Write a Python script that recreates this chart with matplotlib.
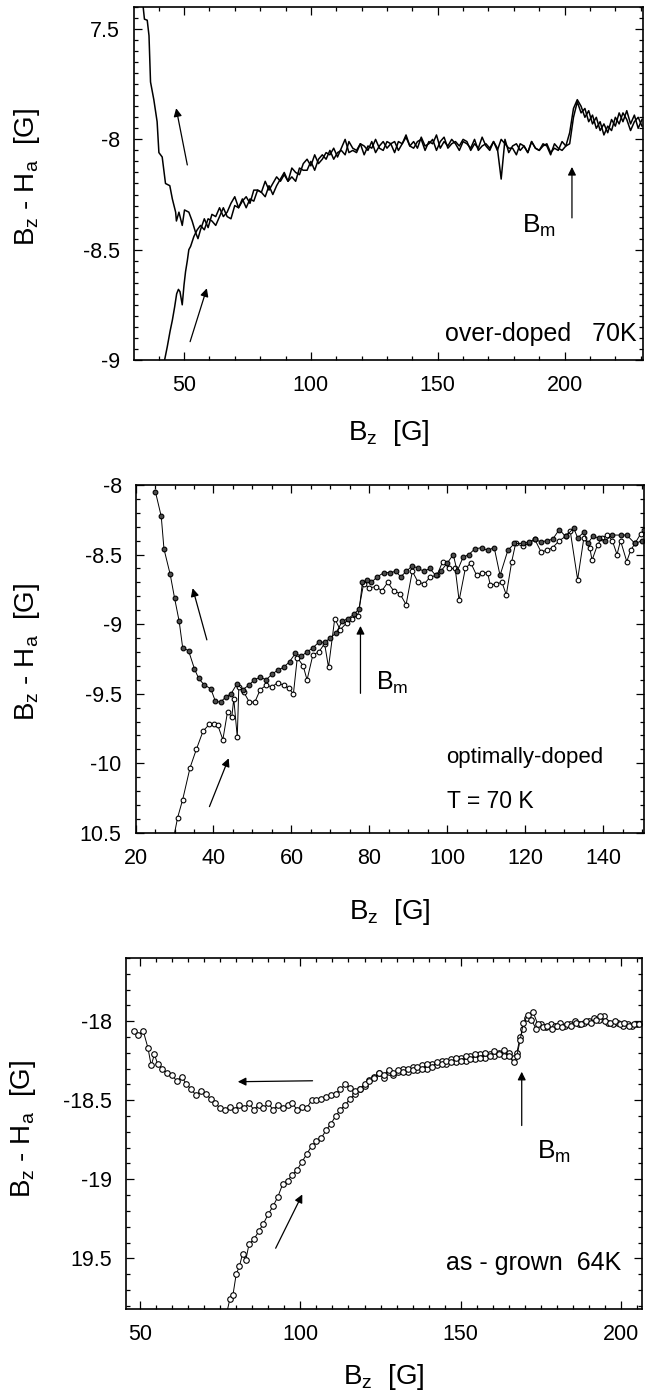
import matplotlib
matplotlib.use('Agg')
import matplotlib.pyplot as plt
from matplotlib.ticker import MultipleLocator

plt.rcParams['font.family'] = ['Liberation Sans', 'DejaVu Sans']
plt.rcParams['mathtext.fontset'] = 'custom'
plt.rcParams['mathtext.rm'] = 'Liberation Sans'
plt.rcParams['mathtext.it'] = 'Liberation Sans:italic'
plt.rcParams['mathtext.default'] = 'regular'

# ---- panel 1: over-doped 70K (field increasing / decreasing) ----
p1_up_x = [42.0, 43.4, 44.5, 45.4, 46.3, 47.1, 47.8, 48.4, 49.3, 50.0, 50.6, 51.3, 51.9, 52.6, 53.9, 55.2,
           56.5, 58.0, 59.5, 61.0, 62.5, 64.0, 65.5, 67.0, 68.5, 70.0,
           71.5, 73.0, 74.5, 76.0, 77.5, 79.0, 80.5, 82.0, 83.5, 85.0,
           86.5, 88.0, 89.5, 91.0, 92.5, 94.0, 95.5, 97.0, 98.5, 100.0,
           101.5, 103.0, 104.5, 106.0, 107.5, 109.0, 110.5, 112.0, 113.5, 115.0,
           116.5, 118.0, 119.5, 121.0, 122.5, 124.0, 125.5, 127.0, 128.5, 130.0,
           131.5, 133.0, 134.5, 136.0, 137.5, 139.0, 140.5, 142.0, 143.5, 145.0,
           146.5, 148.0, 149.5, 151.0, 152.5, 154.0, 155.5, 157.0, 158.5, 160.0,
           161.5, 163.0, 164.5, 166.0, 167.5, 169.0, 170.5, 172.0, 173.5, 175.0,
           176.5, 178.0, 179.5, 181.0, 182.5, 184.0, 185.5, 187.0, 188.5, 190.0,
           191.5, 193.0, 194.5, 196.0, 197.5, 199.0, 200.5, 202.0, 203.5, 205.0,
           206.5, 208.0, 209.5, 211.0, 212.5, 214.0, 215.5, 217.0, 218.5, 220.0,
           221.5, 223.0, 224.5, 226.0, 227.5, 229.0, 230.5]
p1_up_y = [-9.02, -8.94, -8.87, -8.82, -8.76, -8.70, -8.68, -8.69, -8.75, -8.66, -8.60, -8.55, -8.50, -8.485, -8.44, -8.41,
           -8.39, -8.41, -8.36, -8.37, -8.39, -8.35, -8.31, -8.35, -8.36, -8.30,
           -8.31, -8.27, -8.31, -8.27, -8.28, -8.23, -8.24, -8.26, -8.21, -8.25,
           -8.21, -8.18, -8.15, -8.19, -8.17, -8.19, -8.13, -8.14, -8.14, -8.10,
           -8.14, -8.09, -8.07, -8.09, -8.05, -8.09, -8.06, -8.05, -8.07, -8.01,
           -8.04, -8.05, -8.02, -8.07, -8.03, -8.04, -8.00, -8.04, -8.05, -8.01,
           -8.02, -8.06, -8.01, -8.02, -7.98, -8.03, -8.01, -8.04, -7.99, -8.03,
           -8.02, -8.00, -8.05, -8.01, -7.99, -8.04, -8.02, -8.01, -8.03, -8.00,
           -8.01, -8.05, -8.02, -8.04, -7.99, -8.03, -8.05, -8.01, -8.04, -8.18,
           -8.00, -8.06, -8.03, -8.02, -8.05, -8.03, -8.06, -8.01, -8.04, -8.05,
           -8.02, -8.03, -8.07, -8.02, -8.04, -8.05, -8.03, -7.97, -7.86, -7.82,
           -7.85, -7.90, -7.87, -7.93, -7.90, -7.96, -7.93, -7.97, -7.91, -7.94,
           -7.88, -7.92, -7.87, -7.93, -7.89, -7.95, -7.91]
p1_dn_x = [33.6, 33.9, 34.4, 35.5, 36.2, 36.8, 38.1, 39.4, 40.1, 41.4, 42.7, 44.4, 45.4, 46.7, 47.0, 48.0,
           49.3, 50.2, 51.9, 53.2, 54.5, 55.5,
           56.5, 58.0, 59.5, 61.0, 62.5, 64.0, 65.5, 67.0, 68.5, 70.0,
           71.5, 73.0, 74.5, 76.0, 77.5, 79.0, 80.5, 82.0, 83.5, 85.0,
           86.5, 88.0, 89.5, 91.0, 92.5, 94.0, 95.5, 97.0, 98.5, 100.0,
           101.5, 103.0, 104.5, 106.0, 107.5, 109.0, 110.5, 112.0, 113.5, 115.0,
           116.5, 118.0, 119.5, 121.0, 122.5, 124.0, 125.5, 127.0, 128.5, 130.0,
           131.5, 133.0, 134.5, 136.0, 137.5, 139.0, 140.5, 142.0, 143.5, 145.0,
           146.5, 148.0, 149.5, 151.0, 152.5, 154.0, 155.5, 157.0, 158.5, 160.0,
           161.5, 163.0, 164.5, 166.0, 167.5, 169.0, 170.5, 172.0, 173.5, 175.0,
           176.5, 178.0, 179.5, 181.0, 182.5, 184.0, 185.5, 187.0, 188.5, 190.0,
           191.5, 193.0, 194.5, 196.0, 197.5, 199.0, 200.5, 202.0, 203.5, 205.0,
           206.5, 208.0, 209.5, 211.0, 212.5, 214.0, 215.5, 217.0, 218.5, 220.0,
           221.5, 223.0, 224.5, 226.0, 227.5, 229.0, 230.5]
p1_dn_y = [-7.30, -7.40, -7.455, -7.46, -7.53, -7.74, -7.82, -7.92, -8.06, -8.08, -8.20, -8.21, -8.27, -8.33, -8.37, -8.33,
           -8.39, -8.32, -8.33, -8.37, -8.42, -8.45,
           -8.41, -8.36, -8.40, -8.34, -8.35, -8.31, -8.35, -8.33, -8.29, -8.26,
           -8.31, -8.28, -8.26, -8.29, -8.23, -8.23, -8.24, -8.19, -8.23, -8.20,
           -8.17, -8.19, -8.16, -8.19, -8.13, -8.15, -8.16, -8.11, -8.09, -8.12,
           -8.07, -8.11, -8.09, -8.06, -8.07, -8.04, -8.08, -8.04, -8.00, -8.06,
           -8.05, -8.06, -8.02, -8.03, -8.05, -8.01, -8.06, -8.03, -8.01, -8.04,
           -8.02, -8.01, -8.05, -8.02, -7.99, -8.03, -8.04, -8.01, -8.00, -8.05,
           -8.01, -8.02, -7.98, -8.04, -8.01, -8.03, -8.00, -8.02, -8.05, -8.01,
           -8.02, -8.04, -8.00, -8.05, -8.03, -8.02, -8.04, -8.01, -8.05, -8.00,
           -8.02, -8.04, -8.04, -8.07, -8.02, -8.03, -8.06, -8.01, -8.04, -8.05,
           -8.03, -8.02, -8.06, -8.04, -8.05, -8.01, -8.03, -8.02, -7.90, -7.83,
           -7.88, -7.86, -7.92, -7.89, -7.95, -7.92, -7.98, -7.94, -7.96, -7.90,
           -7.93, -7.88, -7.91, -7.96, -7.92, -7.90, -7.94]

# ---- panel 2: optimally-doped, T = 70 K ----
p2_up_x = [29.6, 30.8, 32.1, 34.0, 35.6, 37.3, 38.9, 40.2, 41.1, 42.4,
           43.6, 44.7, 45.2, 46.1, 46.5, 47.8, 49.2, 50.6, 52, 53.5,
           55, 56.5, 58, 59.3, 60.5, 61.5, 63, 64, 65.5, 67,
           68.5, 69.5, 71.1, 72.5, 74.2, 75.5, 77, 78.5, 80, 81.6,
           83.2, 84.7, 86.2, 87.8, 89.4, 91, 92.5, 94.1, 95.6, 97.3,
           98.8, 100.5, 102, 103, 104.6, 106, 107.5, 109, 110.3, 111,
           112.5, 114, 115.1, 116.5, 117.5, 119.3, 121, 122.4, 124, 125.5,
           127, 128.7, 130.3, 131.5, 133.4, 135, 136.5, 137.1, 138.5, 139.7,
           141, 142.3, 143.5, 144.4, 146, 147, 148.1, 149.6, 150.5]
p2_up_y = [-10.56, -10.39, -10.26, -10.03, -9.90, -9.77, -9.72, -9.72, -9.726, -9.83,
           -9.63, -9.667, -9.536, -9.81, -9.45, -9.49, -9.56, -9.56, -9.47, -9.44,
           -9.45, -9.42, -9.44, -9.46, -9.50, -9.24, -9.30, -9.40, -9.22, -9.20,
           -9.14, -9.31, -8.96, -9.04, -8.99, -8.96, -8.94, -8.71, -8.74, -8.73,
           -8.76, -8.70, -8.76, -8.78, -8.86, -8.62, -8.70, -8.71, -8.66, -8.65,
           -8.55, -8.60, -8.60, -8.83, -8.60, -8.56, -8.65, -8.63, -8.63, -8.72,
           -8.71, -8.70, -8.79, -8.55, -8.42, -8.44, -8.42, -8.39, -8.48, -8.47,
           -8.45, -8.40, -8.37, -8.33, -8.68, -8.38, -8.45, -8.54, -8.43, -8.38,
           -8.36, -8.40, -8.50, -8.40, -8.55, -8.47, -8.42, -8.35, -8.32]
p2_dn_x = [150, 148.1, 146, 144.4, 142.3, 140.5, 138.8, 137.3, 136, 135,
           133.4, 132.4, 130.3, 128.7, 127, 125.5, 124, 122.4, 120.8, 119.3,
           117.2, 115.5, 113.5, 112, 110.3, 108.8, 107, 105.5, 104, 102.5,
           101.5, 100, 98.3, 97, 95.5, 94, 92.5, 91, 89.5, 88,
           86.8, 85.2, 83.7, 82, 80.5, 79.5, 78.2, 77.4, 76, 74.5,
           73, 71.5, 70, 68.5, 67, 65.5, 64, 62.5, 61, 59.5,
           58, 56.5, 55, 53.5, 52, 50.5, 49, 47.5, 46, 44.5,
           43.3, 41.8, 40.5, 39.3, 37.6, 36.2, 35.1, 33.6, 32.1, 31.2,
           30.0, 28.9, 27.3, 26.6, 25.1]
p2_dn_y = [-8.40, -8.42, -8.36, -8.36, -8.36, -8.40, -8.38, -8.37, -8.42, -8.34,
           -8.38, -8.31, -8.37, -8.32, -8.39, -8.40, -8.41, -8.39, -8.41, -8.42,
           -8.42, -8.47, -8.65, -8.45, -8.47, -8.45, -8.46, -8.50, -8.52, -8.62,
           -8.50, -8.56, -8.62, -8.65, -8.60, -8.62, -8.60, -8.58, -8.62, -8.66,
           -8.62, -8.63, -8.63, -8.66, -8.70, -8.68, -8.70, -8.89, -8.93, -8.96,
           -8.98, -9.06, -9.10, -9.13, -9.13, -9.17, -9.20, -9.23, -9.21, -9.27,
           -9.31, -9.33, -9.36, -9.40, -9.38, -9.40, -9.44, -9.47, -9.43, -9.50,
           -9.52, -9.56, -9.555, -9.464, -9.436, -9.39, -9.32, -9.19, -9.17, -8.98,
           -8.81, -8.643, -8.46, -8.226, -8.048]

# ---- panel 3: as-grown 64K ----
p3_dn_x = [48.0, 49.5, 51.0, 52.5, 53.5, 54.5, 55.5, 57.0, 58.5, 60.0,
           61.5, 63.0, 64.5, 66.0, 67.5, 69.0, 70.5, 72.0, 73.5, 75.0,
           76.5, 78.0, 79.5, 81.0, 82.5, 84.0, 85.5, 87.0, 88.5, 90.0,
           91.5, 93.0, 94.5, 96.0, 97.5, 99.0, 100.5, 102.0, 103.5, 105.0,
           106.5, 108.0, 109.5, 111.0, 112.5, 114.0, 115.5, 117.0, 118.5, 120.0,
           121.5, 123.0, 124.5, 126.0, 127.5, 129.0, 130.5, 132.0, 133.5, 135.0,
           136.5, 138.0, 139.5, 141.0, 142.5, 144.0, 145.5, 147.0, 148.5, 150.0,
           151.5, 153.0, 154.5, 156.0, 157.5, 159.0, 160.5, 162.0, 163.5, 165.0,
           166.5, 167.5, 168.5, 169.5, 171.0, 172.5, 174.0, 175.5, 177.0, 178.5,
           180.0, 181.5, 183.0, 184.5, 186.0, 187.5, 189.0, 190.5, 192.0, 193.5,
           195.0, 196.5, 198.0, 199.5, 201.0, 202.5, 204.0, 205.5]
p3_dn_y = [-18.06, -18.09, -18.06, -18.17, -18.28, -18.21, -18.27, -18.30, -18.33, -18.34,
           -18.38, -18.35, -18.40, -18.43, -18.47, -18.44, -18.46, -18.49, -18.52, -18.55,
           -18.56, -18.54, -18.56, -18.53, -18.55, -18.52, -18.56, -18.53, -18.55, -18.52,
           -18.56, -18.53, -18.55, -18.53, -18.52, -18.56, -18.54, -18.55, -18.50, -18.50,
           -18.49, -18.48, -18.47, -18.46, -18.43, -18.40, -18.42, -18.44, -18.43, -18.40,
           -18.38, -18.36, -18.33, -18.34, -18.31, -18.33, -18.31, -18.32, -18.30, -18.31,
           -18.29, -18.30, -18.27, -18.29, -18.26, -18.27, -18.25, -18.26, -18.23, -18.25,
           -18.22, -18.24, -18.21, -18.23, -18.20, -18.22, -18.19, -18.21, -18.18, -18.22,
           -18.26, -18.22, -18.12, -18.01, -17.96, -17.94, -18.02, -18.04, -18.03, -18.05,
           -18.03, -18.04, -18.02, -18.03, -18.01, -18.02, -18.00, -18.01, -17.99, -17.97,
           -18.00, -18.01, -18.00, -18.02, -18.01, -18.03, -18.02, -18.02]
p3_up_x = [77.0, 78.0, 79.0, 80.0, 81.0, 82.0, 83.0, 84.0, 85.5, 87.0,
           88.5, 90.0, 91.5, 93.0, 94.5, 96.0, 97.5, 99.0, 100.5, 102.0,
           103.5, 105.0, 106.5, 108.0, 109.5, 111.0, 112.5, 114.0, 115.5, 117.0,
           118.5, 120.0, 121.5, 123.0, 124.5, 126.0, 127.5, 129.0, 130.5, 132.0,
           133.5, 135.0, 136.5, 138.0, 139.5, 141.0, 142.5, 144.0, 145.5, 147.0,
           148.5, 150.0, 151.5, 153.0, 154.5, 156.0, 157.5, 159.0, 160.5, 162.0,
           163.5, 165.0, 166.5, 167.5, 168.5, 169.5, 170.5, 172.0, 173.5, 175.0,
           176.5, 178.0, 179.5, 181.0, 182.5, 184.0, 185.5, 187.0, 188.5, 190.0,
           191.5, 193.0, 194.5, 196.0, 197.5, 199.0, 200.5, 202.0, 203.5, 205.0]
p3_up_y = [-19.85, -19.76, -19.73, -19.60, -19.55, -19.47, -19.51, -19.41, -19.38, -19.33,
           -19.28, -19.22, -19.17, -19.11, -19.03, -19.01, -18.97, -18.94, -18.89, -18.84,
           -18.79, -18.76, -18.74, -18.69, -18.65, -18.60, -18.56, -18.53, -18.49, -18.46,
           -18.43, -18.41, -18.37, -18.35, -18.33, -18.36, -18.32, -18.34, -18.32, -18.30,
           -18.32, -18.29, -18.31, -18.28, -18.30, -18.27, -18.28, -18.25, -18.27, -18.24,
           -18.26, -18.23, -18.25, -18.22, -18.24, -18.21, -18.23, -18.21, -18.22, -18.20,
           -18.22, -18.20, -18.23, -18.20, -18.10, -18.05, -17.98, -17.99, -18.05, -18.02,
           -18.04, -18.02, -18.03, -18.01, -18.03, -18.02, -18.00, -18.02, -18.01, -18.00,
           -17.98, -17.99, -17.97, -18.01, -18.02, -18.01, -18.03, -18.02, -18.03, -18.02]

ylab = r'$B_z$ - $H_a$  [G]'
xlab = r'$B_z$  [G]'

fig = plt.figure(figsize=(6.45, 13.98), dpi=100)


def frame(ax, xlim, ylim, xmaj, xmin, yticks, ylabels, ymin):
    ax.set_xlim(*xlim)
    ax.set_ylim(*ylim)
    ax.xaxis.set_major_locator(MultipleLocator(xmaj))
    ax.xaxis.set_minor_locator(MultipleLocator(xmin))
    ax.set_yticks(yticks, ylabels)
    ax.yaxis.set_minor_locator(MultipleLocator(ymin))
    ax.tick_params(which='both', direction='in', top=True, right=True,
                   labelsize=15.5, width=0.9)
    ax.tick_params(which='major', length=5.5)
    ax.tick_params(which='minor', length=3)
    ax.tick_params(axis='x', pad=11)
    ax.tick_params(axis='y', pad=10)
    for s in ax.spines.values():
        s.set_linewidth(1.2)


def arrow(ax, tail, head):
    ax.annotate('', xy=head, xytext=tail,
                arrowprops=dict(arrowstyle='-|>', lw=0.9, color='k',
                                mutation_scale=12, shrinkA=0, shrinkB=0))


# panel 1
ax1 = fig.add_axes([0.2078, 0.7425, 0.7891, 0.2525])
ax1.plot(p1_up_x, p1_up_y, color='k', lw=1.1)
ax1.plot(p1_dn_x, p1_dn_y, color='k', lw=1.1)
frame(ax1, (30.3, 230.9), (-9, -7.4), 50, 10, [-9, -8.5, -8, -7.5], ['-9', '-8.5', '-8', '7.5'], 0.05)
ax1.set_xlabel(xlab, fontsize=20)
ax1.set_ylabel(ylab, fontsize=20)
ax1.xaxis.set_label_coords(0.5, -0.165)
ax1.yaxis.set_label_coords(-0.18, 0.52)
arrow(ax1, (51.3, -8.116), (46.9, -7.859))
arrow(ax1, (52.4, -8.917), (59.0, -8.675))
arrow(ax1, (202.9, -8.356), (202.9, -8.125))
ax1.text(183.2, -8.424, r'$B_m$', fontsize=19, va='baseline')
ax1.text(228.5, -8.915, 'over-doped   70K', fontsize=18, ha='right', va='baseline')

# panel 2
ax2 = fig.add_axes([0.2101, 0.4042, 0.7876, 0.2489])
ax2.plot(p2_up_x, p2_up_y, color='k', lw=0.7, marker='o', ms=3.4, mfc='white', mec='k', mew=0.8)
ax2.plot(p2_dn_x, p2_dn_y, color='k', lw=0.7, marker='o', ms=3.4, mfc='0.3', mec='k', mew=0.8)
frame(ax2, (20, 150.3), (-10.5, -8), 20, 5, [-10.5, -10, -9.5, -9, -8.5, -8],
      ['10.5', '-10', '-9.5', '-9', '-8.5', '-8'], 0.1)
ax2.set_xlabel(xlab, fontsize=20)
ax2.set_ylabel(ylab, fontsize=20)
ax2.xaxis.set_label_coords(0.5, -0.185)
ax2.yaxis.set_label_coords(-0.184, 0.52)
arrow(ax2, (38.3, -9.113), (34.65, -8.742))
arrow(ax2, (38.96, -10.311), (43.9, -9.964))
arrow(ax2, (77.7, -9.497), (77.7, -9.013))
ax2.text(81.6, -9.473, r'$B_m$', fontsize=18, va='baseline')
ax2.text(99.7, -10.0, 'optimally-doped', fontsize=16, va='baseline')
ax2.text(99.95, -10.318, 'T = 70 K', fontsize=16.5, va='baseline')

# panel 3
ax3 = fig.add_axes([0.1946, 0.0637, 0.8008, 0.2511])
ax3.plot(p3_up_x, p3_up_y, color='k', lw=0.7, marker='o', ms=4.0, mfc='white', mec='k', mew=0.8)
ax3.plot(p3_dn_x, p3_dn_y, color='k', lw=0.7, marker='o', ms=4.0, mfc='white', mec='k', mew=0.8)
frame(ax3, (45.5, 206.5), (-19.82, -17.6), 50, 5, [-19.5, -19, -18.5, -18],
      ['19.5', '-19', '-18.5', '-18'], 0.1)
ax3.set_xlabel(xlab, fontsize=20)
ax3.set_ylabel(ylab, fontsize=20)
ax3.xaxis.set_label_coords(0.5, -0.15)
ax3.yaxis.set_label_coords(-0.169, 0.513)
arrow(ax3, (103.8, -18.377), (80.5, -18.383))
arrow(ax3, (92.3, -19.436), (100.6, -19.096))
arrow(ax3, (169.0, -18.66), (169.0, -18.32))
ax3.text(173.7, -18.87, r'$B_m$', fontsize=19, va='baseline')
ax3.text(200.0, -19.575, 'as - grown  64K', fontsize=18, ha='right', va='baseline')

fig.savefig('out.png', dpi=100)
